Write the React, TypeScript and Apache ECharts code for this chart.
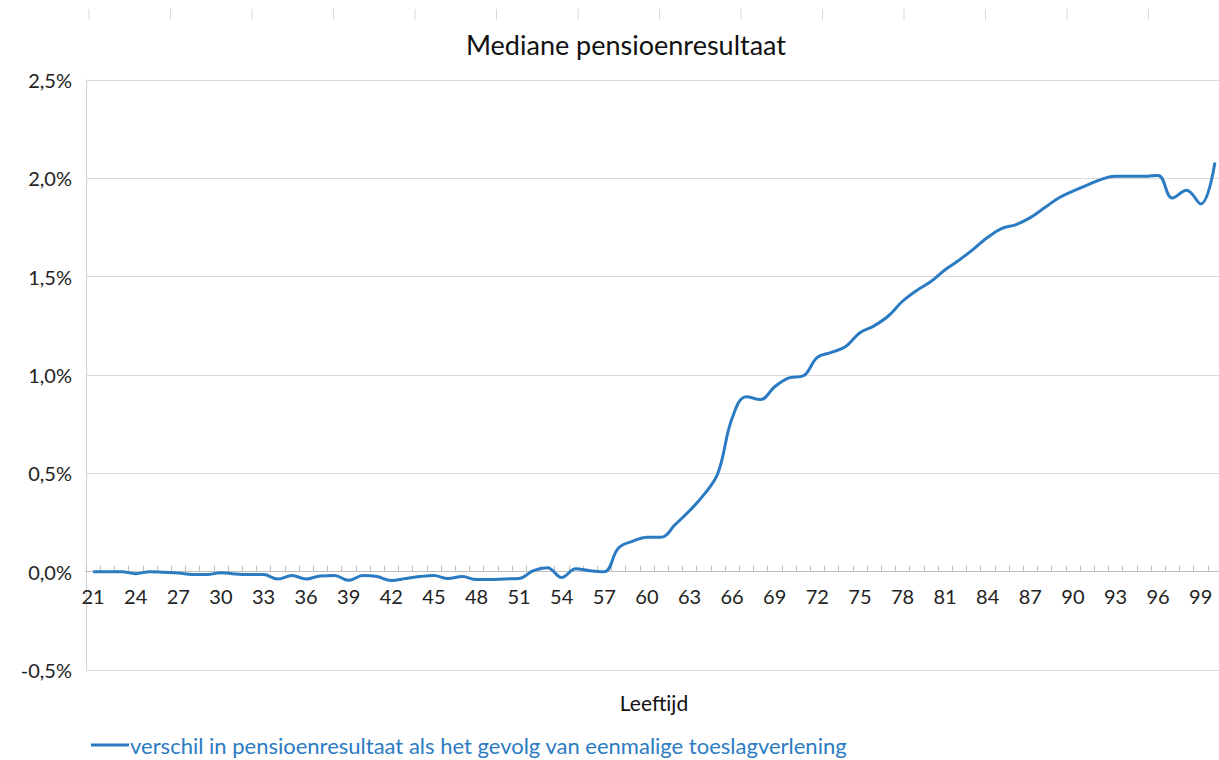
import React, { useEffect, useRef } from "react";
import * as echarts from "echarts";

const ages: string[] = [
  "21","22","23","24","25","26","27","28","29","30",
  "31","32","33","34","35","36","37","38","39","40",
  "41","42","43","44","45","46","47","48","49","50",
  "51","52","53","54","55","56","57","58","59","60",
  "61","62","63","64","65","66","67","68","69","70",
  "71","72","73","74","75","76","77","78","79","80",
  "81","82","83","84","85","86","87","88","89","90",
  "91","92","93","94","95","96","97","98","99","100",
];

// verschil in pensioenresultaat (in %)
const verschil: number[] = [
  0.0, 0.0, 0.0, -0.01, 0.0, -0.003, -0.007, -0.015, -0.015, -0.005,
  -0.012, -0.015, -0.015, -0.037, -0.02, -0.037, -0.022, -0.02, -0.044, -0.02,
  -0.025, -0.045, -0.035, -0.025, -0.02, -0.035, -0.025, -0.04, -0.04, -0.037,
  -0.035, 0.005, 0.02, -0.03, 0.015, 0.005, 0.0, 0.12, 0.155, 0.175,
  0.175, 0.24, 0.31, 0.39, 0.5, 0.78, 0.89, 0.875, 0.94, 0.985,
  0.995, 1.09, 1.115, 1.145, 1.215, 1.25, 1.3, 1.375, 1.43, 1.475,
  1.535, 1.585, 1.64, 1.7, 1.745, 1.765, 1.8, 1.85, 1.9, 1.935,
  1.965, 1.995, 2.01, 2.01, 2.01, 2.015, 1.9, 1.94, 1.87, 2.08,
];

const seriesName = "verschil in pensioenresultaat als het gevolg van eenmalige toeslagverlening";
const chartTitle = "Mediane pensioenresultaat";
const xAxisName = "Leeftijd";

const FONT = "Lato";
const BLUE = "#2b7bc3";

const Y_MIN = -0.5;
const Y_MAX = 2.5;
const GRID_TOP = 80;
const GRID_H = 590;

export default function App() {
  const ref = useRef<HTMLDivElement>(null);
  useEffect(() => {
    if (!ref.current) return;
    const chart = echarts.init(ref.current, undefined, { renderer: "svg" });
    const topTicks = Array.from({ length: 14 }, (_, i) => ({
      type: "line",
      shape: { x1: 89 + i * 81.5, y1: 9, x2: 89 + i * 81.5, y2: 20 },
      style: { stroke: "#d8d8d8", lineWidth: 1 },
      silent: true,
    }));
    // move the category axis up from the grid bottom to the 0% line
    const zeroOffset = -(GRID_H * (0 - Y_MIN)) / (Y_MAX - Y_MIN);
    chart.setOption({
      animation: false,
      backgroundColor: "#ffffff",
      textStyle: { fontFamily: FONT },
      title: {
        text: chartTitle,
        left: 621,
        top: 26,
        textAlign: "center",
        textStyle: { fontFamily: FONT, fontSize: 27, fontWeight: "normal", color: "#111" },
      },
      legend: {
        left: 86,
        top: 729,
        itemWidth: 38,
        itemHeight: 3,
        itemGap: 4,
        icon: "rect",
        textStyle: { fontFamily: FONT, fontSize: 22, color: BLUE, padding: [0, 0, 0, -4] },
        data: [seriesName],
      },
      grid: {
        left: 86,
        top: GRID_TOP,
        width: 1136,
        height: GRID_H,
        containLabel: false,
        outerBoundsMode: "none",
      },
      xAxis: {
        type: "category",
        data: ages,
        boundaryGap: true,
        position: "bottom",
        offset: zeroOffset,
        name: xAxisName,
        nameLocation: "middle",
        nameGap: 120,
        nameTextStyle: { fontFamily: FONT, fontSize: 21, color: "#111" },
        axisLine: { onZero: false, lineStyle: { color: "#bfbfbf", width: 1 } },
        axisTick: { show: true, inside: true, length: 6, interval: 0, lineStyle: { color: "#bfbfbf" } },
        axisLabel: { interval: 2, margin: 14, fontFamily: FONT, fontSize: 20, color: "#222" },
        splitLine: { show: false },
      },
      yAxis: {
        type: "value",
        min: Y_MIN,
        max: Y_MAX,
        interval: 0.5,
        axisLine: { show: true, lineStyle: { color: "#d0d0d0" } },
        axisTick: { show: false },
        axisLabel: {
          margin: 14,
          fontFamily: FONT,
          fontSize: 20,
          color: "#222",
          formatter: (v: number) => v.toFixed(1).replace(".", ",") + "%",
        },
        splitLine: { show: true, lineStyle: { color: "#dadada", width: 1 } },
      },
      series: [
        {
          name: seriesName,
          type: "line",
          data: verschil,
          smooth: 0.4,
          showSymbol: false,
          symbol: "none",
          lineStyle: { color: BLUE, width: 3 },
          itemStyle: { color: BLUE },
        },
      ],
      graphic: topTicks,
    });
    return () => chart.dispose();
  }, []);
  return (
    <div
      ref={ref}
      style={{ position: "absolute", left: 0, top: 0, width: 1219, height: 760 }}
    />
  );
}
